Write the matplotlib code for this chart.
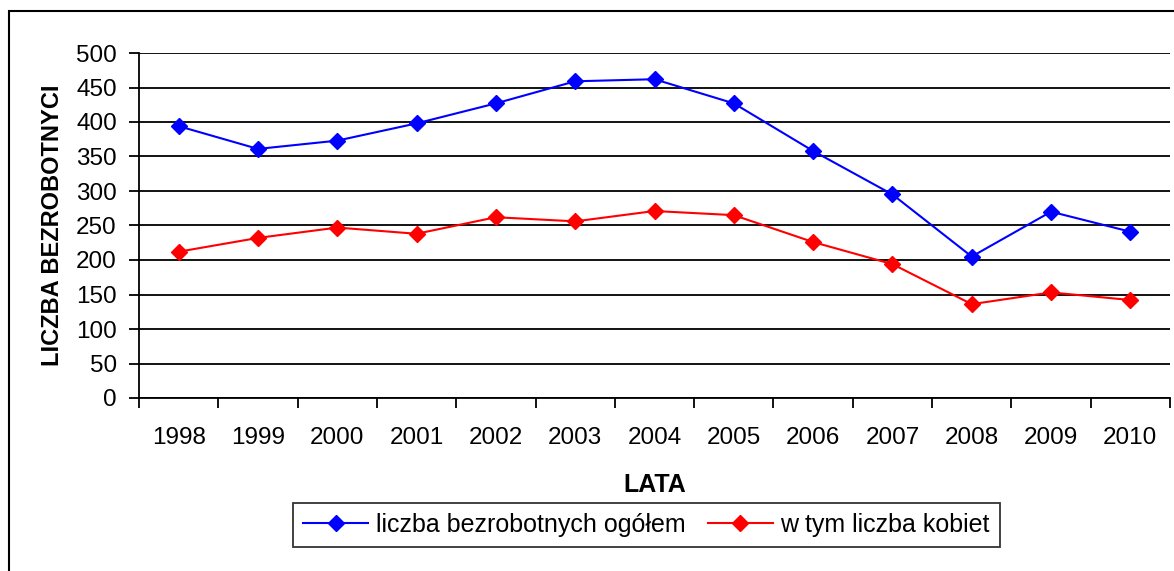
import numpy as np
import matplotlib.pyplot as plt
from matplotlib.patches import Rectangle

plt.rcParams['font.family'] = ['Liberation Sans', 'DejaVu Sans']

years = ['1998', '1999', '2000', '2001', '2002', '2003', '2004',
         '2005', '2006', '2007', '2008', '2009', '2010']
ogolem = [394, 361, 373, 398, 427, 459, 462, 427, 358, 295, 205, 270, 241]
kobiety = [212, 232, 247, 238, 262, 256, 271, 265, 226, 194, 136, 153, 142]

W, H = 1174, 571
fig = plt.figure(figsize=(W / 100, H / 100), dpi=100)

# outer frame (right/bottom edges cut off like in the original)
fig.patches.append(Rectangle((9 / W, -0.1), 1.2, 1.1 - 11 / H,
                             transform=fig.transFigure, fill=False,
                             edgecolor='black', lw=1.5))

ax = fig.add_axes([139 / W, 1 - 398 / H, (1170 - 139) / W, (398 - 53) / H])

x = np.arange(len(years))
ax.plot(x, ogolem, color='#0000ff', lw=1.5, marker='D', ms=8,
        label='liczba bezrobotnych ogółem', zorder=3)
ax.plot(x, kobiety, color='#ff0000', lw=1.5, marker='D', ms=8,
        label='w tym liczba kobiet', zorder=3)

ax.set_xlim(-0.5, len(years) - 0.5)
ax.set_ylim(0, 500)
ax.set_yticks(range(0, 501, 50))
ax.yaxis.grid(True, color='black', lw=1.3)
ax.set_axisbelow(True)

ax.set_xticks(x)
ax.set_xticklabels(years)
ax.set_xticks(np.arange(-0.5, len(years), 1), minor=True)
ax.tick_params(axis='x', which='major', length=0, pad=21, labelsize=17.5)
ax.tick_params(axis='x', which='minor', length=7, width=1.3, direction='out')
ax.tick_params(axis='y', length=7, width=1.3, labelsize=17.5, pad=9)

for s in ['top', 'right']:
    ax.spines[s].set_visible(False)
for s in ['left', 'bottom']:
    ax.spines[s].set_linewidth(1.3)

ax.set_ylabel('LICZBA BEZROBOTNYCI', fontsize=17, fontweight='bold', labelpad=9)
ax.set_xlabel('LATA', fontsize=18, fontweight='bold', labelpad=17)

leg = ax.legend(loc='upper center', bbox_to_anchor=(0.492, -0.304), ncol=2,
                fontsize=18, frameon=True, fancybox=False, edgecolor='black',
                handlelength=2.6, handletextpad=0.3, columnspacing=0.9,
                borderpad=0.4, borderaxespad=0)
leg.get_frame().set_linewidth(1.3)

fig.savefig('out.png', dpi=100)
